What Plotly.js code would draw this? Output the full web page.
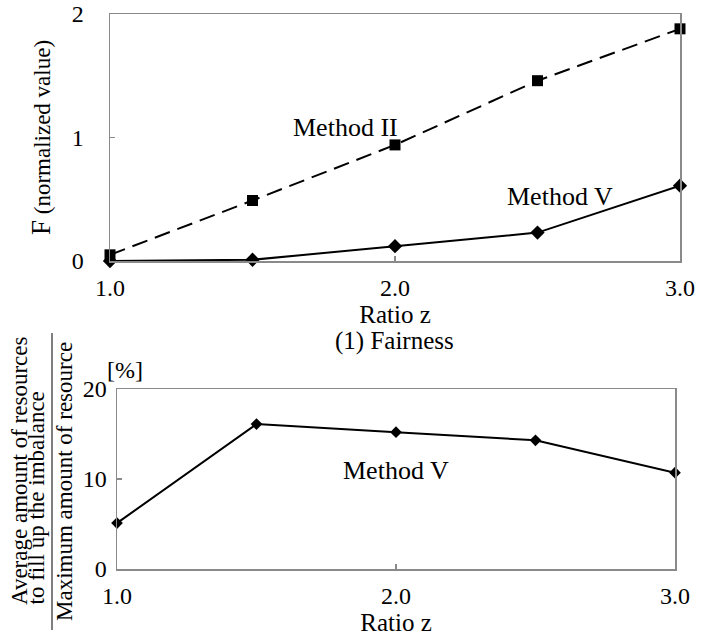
<!DOCTYPE html>
<html>
<head>
<meta charset="utf-8">
<script src="https://cdn.plot.ly/plotly-3.0.1.min.js"></script>
<style>html,body{margin:0;padding:0;background:#fff;}#chart{width:712px;height:641px;}</style>
</head>
<body>
<div id="chart"></div>
<script>
// Data
const ratioZ = [1.0, 1.5, 2.0, 2.5, 3.0];
const fairnessMethodII = [0.05, 0.49, 0.94, 1.46, 1.88];
const fairnessMethodV = [0.0, 0.01, 0.12, 0.23, 0.61];
const resourceMethodV = [5.1, 16.1, 15.2, 14.3, 10.7];
const xTickVals = [1, 2, 3];
const xTickText = ['1.0', '2.0', '3.0'];
const yTickValsTop = [0, 1, 2];
const yTickValsBottom = [0, 10, 20];

const W = 712, H = 641;
const px = v => v / W;
const py = v => 1 - v / H;
const FONT = 'Liberation Serif';
const GRAY = '#8a8a8a';

const traces = [
  {x: ratioZ, y: fairnessMethodII, type: 'scatter', mode: 'lines+markers', name: 'Method II',
   xaxis: 'x', yaxis: 'y', cliponaxis: false,
   line: {color: '#000', width: 2, dash: '16px,8px'},
   marker: {symbol: 'square', size: 11, color: '#000'}},
  {x: ratioZ, y: fairnessMethodV, type: 'scatter', mode: 'lines+markers', name: 'Method V',
   xaxis: 'x', yaxis: 'y', cliponaxis: false,
   line: {color: '#000', width: 2},
   marker: {symbol: 'diamond', size: 11, color: '#000'}},
  {x: ratioZ, y: resourceMethodV, type: 'scatter', mode: 'lines+markers', name: 'Method V',
   xaxis: 'x2', yaxis: 'y2', cliponaxis: false,
   line: {color: '#000', width: 2},
   marker: {symbol: 'diamond', size: 9, color: '#000'}}
];

const axisBase = {
  showline: true, mirror: true, linecolor: GRAY, linewidth: 1.5,
  showgrid: false, zeroline: false,
  ticks: 'inside', ticklen: 5, tickcolor: GRAY, tickwidth: 1.5,
  tickfont: {family: FONT, size: 24, color: '#000'},
  automargin: false
};

const layout = {
  width: W, height: H,
  margin: {l: 0, r: 0, t: 0, b: 0},
  paper_bgcolor: '#fff', plot_bgcolor: '#fff',
  showlegend: false,
  font: {family: FONT, color: '#000'},
  xaxis: Object.assign({}, axisBase, {
    domain: [px(110), px(680)], range: [1, 3], anchor: 'y',
    tickvals: xTickVals, ticktext: xTickText, ticklabelstandoff: 5,
    title: {text: 'Ratio z', font: {family: FONT, size: 25, color: '#000'}, standoff: 3}
  }),
  yaxis: Object.assign({}, axisBase, {
    domain: [py(261), py(14)], range: [0, 2], anchor: 'x',
    tickvals: yTickValsTop, ticklabelstandoff: 20,
    title: {text: '<span style="font-size:27px">F</span> (normalized value)', font: {family: FONT, size: 23, color: '#000'}, standoff: 14}
  }),
  xaxis2: Object.assign({}, axisBase, {
    domain: [px(117), px(675)], range: [1, 3], anchor: 'y2',
    tickvals: xTickVals, ticktext: xTickText, ticklabelstandoff: 5,
    title: {text: 'Ratio z', font: {family: FONT, size: 25, color: '#000'}, standoff: 2}
  }),
  yaxis2: Object.assign({}, axisBase, {
    domain: [py(569), py(389)], range: [0, 20], anchor: 'x2',
    tickvals: yTickValsBottom, ticklabelstandoff: 4
  }),
  annotations: [
    {xref: 'x', yref: 'y', x: 1.825, y: 1.077, text: 'Method II', showarrow: false,
     font: {family: FONT, size: 26, color: '#000'}},
    {xref: 'x', yref: 'y', x: 2.58, y: 0.526, text: 'Method V', showarrow: false,
     font: {family: FONT, size: 26, color: '#000'}},
    {xref: 'x2', yref: 'y2', x: 2.0, y: 11.0, text: 'Method V', showarrow: false,
     font: {family: FONT, size: 26, color: '#000'}},
    {xref: 'paper', yref: 'paper', x: px(394), y: py(341), text: '(1) Fairness', showarrow: false,
     font: {family: FONT, size: 25, color: '#000'}},
    {xref: 'paper', yref: 'paper', x: px(105), y: py(370), xanchor: 'left', text: '[%]', showarrow: false,
     font: {family: FONT, size: 24, color: '#000'}},
    {xref: 'paper', yref: 'paper', x: px(19), y: py(607), yanchor: 'bottom', xanchor: 'center',
     text: 'Average amount of resources', textangle: -90, showarrow: false,
     font: {family: FONT, size: 23, color: '#000'}},
    {xref: 'paper', yref: 'paper', x: px(36), y: py(607), yanchor: 'bottom', xanchor: 'center',
     text: 'to fill up the imbalance', textangle: -90, showarrow: false,
     font: {family: FONT, size: 23, color: '#000'}},
    {xref: 'paper', yref: 'paper', x: px(64), y: py(482), yanchor: 'middle', xanchor: 'center',
     text: 'Maximum amount of resource', textangle: -90, showarrow: false,
     font: {family: FONT, size: 23, color: '#000'}}
  ],
  shapes: [
    {type: 'line', xref: 'paper', yref: 'paper', x0: px(52), x1: px(52), y0: py(333), y1: py(630),
     line: {color: '#555', width: 1.5}}
  ]
};

Plotly.newPlot('chart', traces, layout, {staticPlot: true, displayModeBar: false});
</script>
</body>
</html>
